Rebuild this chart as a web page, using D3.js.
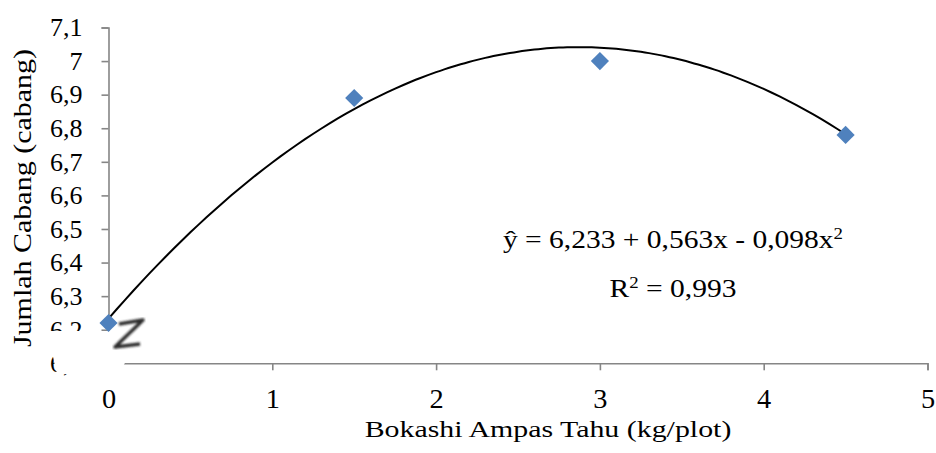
<!DOCTYPE html>
<html>
<head>
<meta charset="utf-8">
<script src="https://cdn.jsdelivr.net/npm/d3@7"></script>
<style>
  body { margin: 0; background: #fff; }
  svg { display: block; font-family: "Liberation Serif", "Times New Roman", serif; }
</style>
</head>
<body>
<svg id="chart" width="936" height="453"></svg>
<script>
// data
const doses = [0, 1.5, 3, 4.5]
const branches = [6.22, 6.89, 7.0, 6.78]
const xTicks = [0, 1, 2, 3, 4, 5]
const yTicks = [6.1, 6.2, 6.3, 6.4, 6.5, 6.6, 6.7, 6.8, 6.9, 7.0, 7.1]
const trendCoef = [6.233, 0.563, -0.098]
const equationText = ["ŷ = 6,233 + 0,563x - 0,098x", "R", " = 0,993"]

const svg = d3.select("#chart")

const x = d3.scaleLinear().domain([0, 5]).range([108.5, 927.5])
const y = d3.scaleLinear().domain([6.1, 7.1]).range([363.3, 27.5])

const axisColor = "#868686"
const fmt = d => String(+d.toFixed(1)).replace(".", ",")

// y axis
const yAxis = svg.append("g")
  .attr("transform", `translate(${x(0)},0)`)
  .call(d3.axisLeft(y).tickValues(yTicks).tickSize(7).tickPadding(19).tickFormat(fmt))
yAxis.select(".domain").attr("stroke", axisColor).attr("stroke-width", 1.6)
yAxis.selectAll(".tick line").attr("stroke", axisColor).attr("stroke-width", 1.6)
yAxis.selectAll(".tick text")
  .attr("font-family", "Liberation Serif")
  .attr("font-size", 26)
  .attr("fill", "#000")

// x axis
const xAxis = svg.append("g")
  .attr("transform", `translate(0,${y(6.1)})`)
  .call(d3.axisBottom(x).tickValues(xTicks).tickSize(7).tickPadding(19).tickFormat(d => d))
xAxis.select(".domain").attr("stroke", axisColor).attr("stroke-width", 1.6)
xAxis.selectAll(".tick line").attr("stroke", axisColor).attr("stroke-width", 1.6)
xAxis.selectAll(".tick text")
  .attr("font-family", "Liberation Serif")
  .attr("font-size", 27)
  .attr("fill", "#000")
xAxis.selectAll(".tick text").attr("transform", "scale(1.05,1)")

// polynomial trendline from the printed equation
const trend = d3.range(0, 4.501, 0.05).map(v => [v, trendCoef[0] + trendCoef[1] * v + trendCoef[2] * v * v])
svg.append("path")
  .datum(trend)
  .attr("fill", "none")
  .attr("stroke", "#000")
  .attr("stroke-width", 2)
  .attr("d", d3.line().x(d => x(d[0])).y(d => y(d[1])).curve(d3.curveMonotoneX))

// axis break patch
svg.append("polygon")
  .attr("points", "47,331 112,331 150,316 119,374 57,374")
  .attr("fill", "#fff")

svg.append("defs").append("filter")
  .attr("id", "soft")
  .append("feGaussianBlur").attr("stdDeviation", 0.8)

svg.append("path")
  .attr("d", "M119,324 L143,320 L115,347 L140,344")
  .attr("fill", "none")
  .attr("stroke", "#2a2a2a")
  .attr("stroke-width", 3.4)
  .attr("stroke-linejoin", "round")
  .attr("filter", "url(#soft)")

// points
svg.selectAll(".pt")
  .data(doses.map((d, i) => [d, branches[i]]))
  .join("path")
  .attr("class", "pt")
  .attr("transform", d => `translate(${x(d[0])},${y(d[1])}) rotate(45)`)
  .attr("d", d3.symbol(d3.symbolSquare, 165))
  .attr("fill", "#4F81BD")

// equation
const eq = svg.append("g").attr("font-size", 25).attr("fill", "#000")
const line1 = eq.append("text")
  .attr("text-anchor", "middle")
  .attr("transform", "translate(673,248) scale(1.18,1)")
line1.append("tspan").text(equationText[0])
line1.append("tspan").attr("font-size", 16).attr("dy", -9).text("2")

const line2 = eq.append("text")
  .attr("text-anchor", "middle")
  .attr("transform", "translate(673,297) scale(1.18,1)")
line2.append("tspan").text(equationText[1])
line2.append("tspan").attr("font-size", 16).attr("dy", -9).text("2")
line2.append("tspan").attr("dy", 9).text(equationText[2])

// axis titles
svg.append("text")
  .attr("transform", "translate(548,437) scale(1.3,1)")
  .attr("text-anchor", "middle")
  .attr("font-size", 23)
  .text("Bokashi Ampas Tahu (kg/plot)")

svg.append("text")
  .attr("transform", "translate(31,198) rotate(-90) scale(1.2,1)")
  .attr("text-anchor", "middle")
  .attr("font-size", 25)
  .text("Jumlah Cabang (cabang)")
</script>
</body>
</html>
